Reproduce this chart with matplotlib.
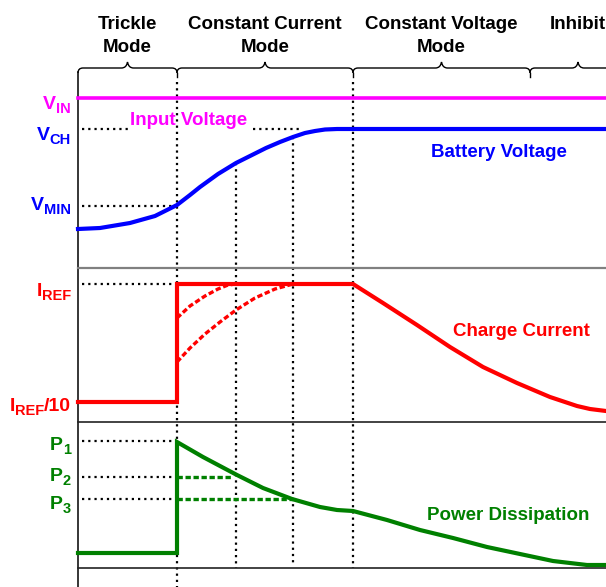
"""
Diagrama de carga de bateria: tensão, corrente e dissipação por modo.
Saída: out.png (606x587)
"""
import matplotlib.pyplot as plt
from matplotlib.path import Path
from matplotlib.patches import PathPatch

W, H = 606, 587

MAGENTA = "#ff00ff"
BLUE = "#0000ff"
RED = "#ff0000"
GREEN = "#008000"
BLACK = "#000000"

plt.rcParams.update({
    "font.family": ["Liberation Sans", "DejaVu Sans"],
    "font.weight": "bold",
})

# eixo do tempo (px do diagrama)
x_left = 78
x_cc = 177      # trickle -> corrente constante
x_t2 = 236
x_t3 = 293
x_cv = 353      # corrente constante -> tensão constante
x_inh = 530

# níveis (px do diagrama, y cresce para baixo)
v_in = 98
v_ch = 129
v_min = 206
i_ref = 284
i_ref10 = 402
p1, p2, p3 = 441, 477, 499

mode_names = ["Trickle\nMode", "Constant Current\nMode", "Constant Voltage\nMode", "Inhibit"]
mode_bounds = [(x_left, x_cc), (x_cc, x_cv), (x_cv, x_inh), (x_inh, 626)]

batt_x = [78, 100, 130, 155, 177, 190, 200, 218, 236, 250, 266, 280, 293, 305, 315, 325, 337, 606]
batt_y = [229, 228, 223, 216, 205, 195, 187, 174, 163, 156, 148, 142, 137, 133, 131, 129.5, 129, 129]

chg_x = [78, 177, 177, 353, 383, 417, 450, 483, 517, 550, 577, 590, 606]
chg_y = [402, 402, 284, 284, 303, 325, 347, 367, 383, 397, 406, 409, 411]

chg_alt1_x = [177, 190, 205, 218, 228, 236]
chg_alt1_y = [318, 306, 296, 289, 285, 284]
chg_alt2_x = [177, 190, 205, 220, 236, 255, 275, 293]
chg_alt2_y = [362, 348, 334, 322, 310, 298, 289, 284]

pwr_x = [78, 177, 177, 203, 237, 263, 292, 320, 337, 353, 387, 420, 453, 487, 520, 553, 587, 606]
pwr_y = [553, 553, 442, 457, 475, 488, 499, 507, 510, 511, 520, 530, 538, 547, 554, 561, 565, 565]

fig = plt.figure(figsize=(W / 100, H / 100), dpi=100)
ax = fig.add_axes([0, 0, 1, 1])
ax.set_xlim(0, W)
ax.set_ylim(H, 0)
ax.axis("off")

DOT = dict(color=BLACK, lw=1.6, ls=(0, (1, 1.8)), dash_capstyle="butt", zorder=1)
DASH = dict(lw=2.4, ls=(0, (1.6, 0.8)), zorder=3)


# chaves dos modos
def brace(x0, x1, y=68, h=6, r=5):
    xm = (x0 + x1) / 2
    verts = [(x0, y + r), (x0, y), (x0 + r, y),
             (xm - h, y), (xm - 1, y), (xm, y - h),
             (xm + 1, y), (xm + h, y),
             (x1 - r, y), (x1, y), (x1, y + r)]
    codes = [Path.MOVETO, Path.CURVE3, Path.CURVE3,
             Path.LINETO, Path.CURVE3, Path.CURVE3,
             Path.CURVE3, Path.CURVE3,
             Path.LINETO, Path.CURVE3, Path.CURVE3]
    ax.add_patch(PathPatch(Path(verts, codes), fill=False, lw=1.0, ec=BLACK))
    return xm


for name, (x0, x1) in zip(mode_names, mode_bounds):
    xm = brace(x0, x1)
    lines = name.split("\n")
    ax.text(xm, 29, lines[0], ha="center", va="baseline", fontsize=13.5, color=BLACK)
    if len(lines) > 1:
        ax.text(xm, 52, lines[1], ha="center", va="baseline", fontsize=13.5, color=BLACK)

for xb in [x_cc, x_cv, x_inh]:
    ax.plot([xb, xb], [73, 77], color=BLACK, lw=1.0)

# eixo vertical e separadores
ax.plot([x_left, x_left], [72, H], color=BLACK, lw=1.1)
ax.plot([x_left, W], [268, 268], color="#808080", lw=1.6)
ax.plot([x_left, W], [422, 422], color="#222222", lw=1.2)
ax.plot([x_left, W], [568, 568], color="#222222", lw=1.2)

# guias pontilhadas
ax.plot([x_cc, x_cc], [82, H], **DOT)
ax.plot([x_cv, x_cv], [82, 568], **DOT)
ax.plot([x_t2, x_t2], [163, 568], **DOT)
ax.plot([x_t3, x_t3], [137, 563], **DOT)
ax.plot([82, 128], [v_ch, v_ch], **DOT)
ax.plot([253, 300], [v_ch, v_ch], **DOT)
for lvl in [v_min, i_ref, p1, p2, p3]:
    ax.plot([82, x_cc], [lvl, lvl], **DOT)

# curvas
ax.plot([x_left, W], [v_in, v_in], color=MAGENTA, lw=2.6, zorder=3)
ax.plot(batt_x, batt_y, color=BLUE, lw=3, zorder=3, solid_joinstyle="round")
ax.plot(chg_x, chg_y, color=RED, lw=3, zorder=3, solid_joinstyle="miter")
ax.plot(chg_alt1_x, chg_alt1_y, color=RED, **DASH)
ax.plot(chg_alt2_x, chg_alt2_y, color=RED, **DASH)
ax.plot(pwr_x, pwr_y, color=GREEN, lw=3, zorder=3, solid_joinstyle="miter")
ax.plot([x_cc, 233], [p2, p2], color=GREEN, **DASH)
ax.plot([x_cc, x_t3], [p3, p3], color=GREEN, **DASH)

# rótulos dos níveis (texto principal + subscrito), alinhados à direita
renderer = fig.canvas.get_renderer()


def level_label(y, parts, color, x_right=71):
    x = x_right
    for txt, is_sub in reversed(parts):
        t = ax.text(x, y + (4 if is_sub else 0), txt, ha="right", va="baseline",
                    fontsize=10.5 if is_sub else 14, color=color)
        bb = t.get_window_extent(renderer)
        x -= bb.width


level_label(109, [("V", False), ("IN", True)], MAGENTA)
level_label(140, [("V", False), ("CH", True)], BLUE)
level_label(210, [("V", False), ("MIN", True)], BLUE)
level_label(296, [("I", False), ("REF", True)], RED)
level_label(411, [("I", False), ("REF", True), ("/10", False)], RED)
level_label(450, [("P", False), ("1", True)], GREEN)
level_label(481, [("P", False), ("2", True)], GREEN)
level_label(509, [("P", False), ("3", True)], GREEN)

# nomes das curvas
NM = dict(ha="left", va="baseline", fontsize=13.5)
ax.text(130, 125, "Input Voltage", color=MAGENTA, **NM)
ax.text(431, 157, "Battery Voltage", color=BLUE, **NM)
ax.text(453, 336, "Charge Current", color=RED, **NM)
ax.text(427, 520, "Power Dissipation", color=GREEN, **NM)

fig.savefig("out.png", dpi=100, facecolor="white")
